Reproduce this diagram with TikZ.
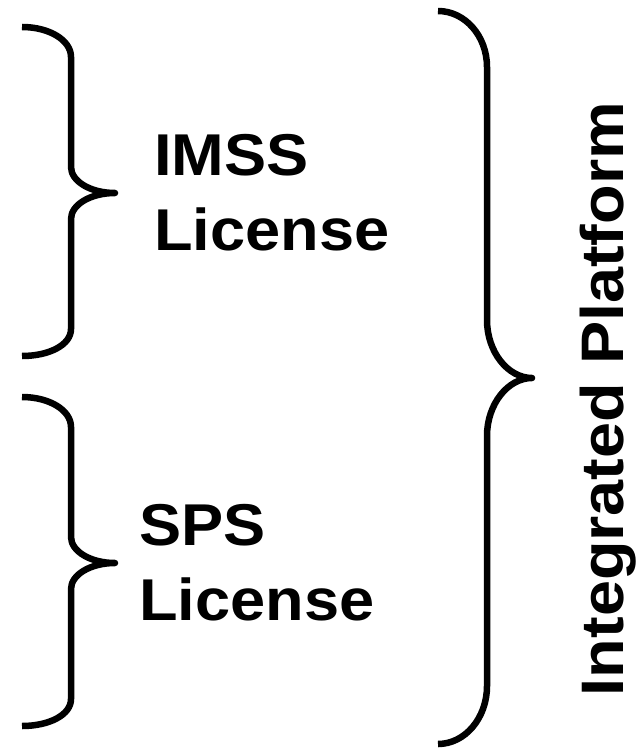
\documentclass[tikz,border=0pt]{standalone}
\usepackage{fontspec}
\setmainfont{Liberation Sans}
\newfontfamily\labelfont[FakeStretch=1.07]{Liberation Sans Bold}
\newfontfamily\platfont[FakeStretch=1.08]{Liberation Sans Bold}
\begin{document}
\begin{tikzpicture}[x=1pt,y=-1pt,
  brace/.style={line width=6.5pt,line join=round,line cap=butt},
  lbl/.style={inner sep=0pt,align=left,anchor=base west,
    font=\labelfont\fontsize{59}{75}\selectfont}]
\useasboundingbox (0,0) rectangle (644,749);

% left brace around the IMSS licence
\draw[brace] (22,27) .. controls (49,27) and (71,40) .. (71,57)
  -- (71,167) .. controls (71,181) and (90,193) .. (115,193)
  .. controls (90,193) and (71,205) .. (71,219)
  -- (71,329) .. controls (71,345) and (49,356) .. (22,356);

% left brace around the SPS licence
\draw[brace] (22,397) .. controls (49,397) and (71,410) .. (71,427)
  -- (71,537) .. controls (71,551) and (90,563) .. (115,563)
  .. controls (90,563) and (71,575) .. (71,589)
  -- (71,699) .. controls (71,715) and (49,726) .. (22,726);

% large brace grouping both licences
\draw[brace] (438,11) .. controls (465,11) and (487,36) .. (487,67)
  -- (487,320) .. controls (487,352) and (508,378) .. (532,378)
  .. controls (508,378) and (487,404) .. (487,436)
  -- (487,686) .. controls (487,718) and (465,744) .. (438,744);

% base anchor of a two-line node sits on its last line
\node[lbl] (imss) at (154,250) {IMSS\\License};
\node[lbl] (sps) at (139,620) {SPS\\License};
\node[inner sep=0pt,anchor=base,rotate=90,
  font=\platfont\fontsize{60}{72}\selectfont] (platform) at (623,399)
  {Integrated Platform};
\end{tikzpicture}
\end{document}
